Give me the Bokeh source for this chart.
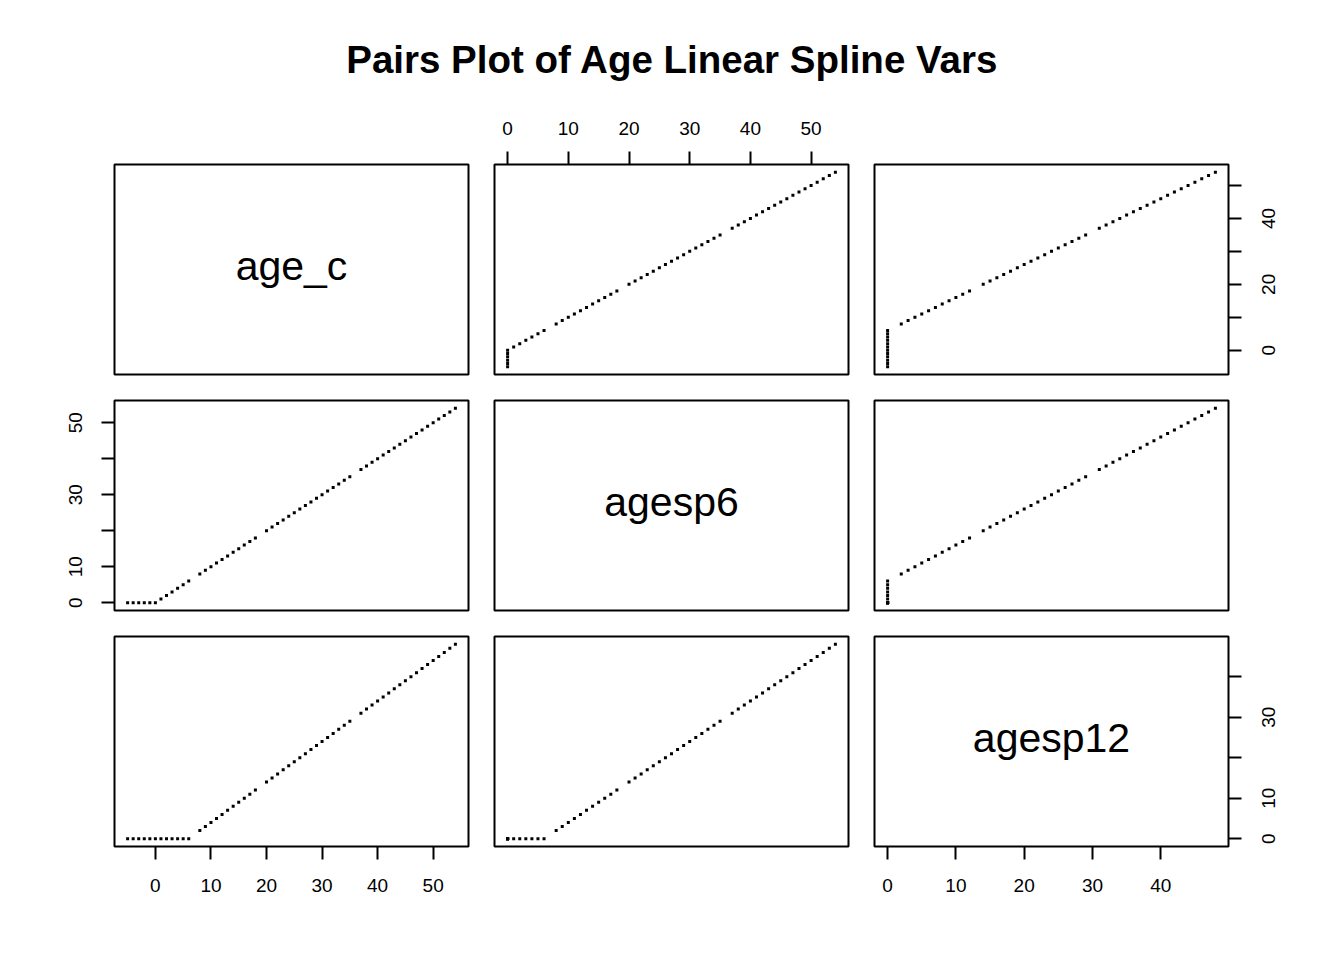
import math
from bokeh.plotting import figure
from bokeh.models import Range1d, FixedTicker, Label, ColumnDataSource, LinearAxis
from bokeh.layouts import column, row
from bokeh.embed import file_html
from bokeh.resources import INLINE
from bokeh.core.properties import value

# ---- data ----
age_c = [-5, -4, -3, -2, -1, 0, 1, 2, 3, 4, 5, 6,
         8, 9, 10, 11, 12, 13, 14, 15, 16, 17, 18,
         20, 21, 22, 23, 24, 25, 26, 27, 28, 29, 30, 31, 32, 33, 34, 35,
         37, 38, 39, 40, 41, 42, 43, 44, 45, 46, 47, 48, 49, 50, 51, 52, 53, 54]
agesp6 = [0, 0, 0, 0, 0, 0, 1, 2, 3, 4, 5, 6,
          8, 9, 10, 11, 12, 13, 14, 15, 16, 17, 18,
          20, 21, 22, 23, 24, 25, 26, 27, 28, 29, 30, 31, 32, 33, 34, 35,
          37, 38, 39, 40, 41, 42, 43, 44, 45, 46, 47, 48, 49, 50, 51, 52, 53, 54]
agesp12 = [0, 0, 0, 0, 0, 0, 0, 0, 0, 0, 0, 0,
           2, 3, 4, 5, 6, 7, 8, 9, 10, 11, 12,
           14, 15, 16, 17, 18, 19, 20, 21, 22, 23, 24, 25, 26, 27, 28, 29,
           31, 32, 33, 34, 35, 36, 37, 38, 39, 40, 41, 42, 43, 44, 45, 46, 47, 48]

var_names = ["age_c", "agesp6", "agesp12"]
var_ticks = {"age_c": [0, 10, 20, 30, 40, 50],
             "agesp6": [0, 10, 20, 30, 40, 50],
             "agesp12": [0, 10, 20, 30, 40]}
title_text = "Pairs Plot of Age Linear Spline Vars"

data = {"age_c": age_c, "agesp6": agesp6, "agesp12": agesp12}
src = ColumnDataSource(data=data)


def padded(vals):
    lo, hi = min(vals), max(vals)
    d = (hi - lo) * 0.04
    return (lo - d, hi + d)


rng = {k: padded(v) for k, v in data.items()}

FONT = "Liberation Sans"
LABEL_PX = 19
FRAME_H = 210
col_w = [481, 380, 482]
col_left = [114, 13, 13]
col_right = [13, 13, 115]
row_h = [287, 236, 337]
row_top = [64, 13, 13]
row_bot = [13, 13, 114]

# label hiding as in the reference (R drops overlapping labels)
hidden = {(0, 2): [10, 30, 50], (1, 0): [20, 40], (2, 2): [20, 40]}
standoff = {"above": 17, "below": 19, "left": 19, "right": 27}


def base_axis(ax, ticks):
    ax.ticker = FixedTicker(ticks=ticks)
    ax.axis_line_color = None
    ax.major_tick_out = 13
    ax.major_tick_in = 0
    ax.minor_tick_out = 0
    ax.minor_tick_in = 0
    ax.major_tick_line_width = 2
    ax.major_tick_line_color = "black"
    ax.major_label_text_font = FONT
    ax.major_label_text_font_size = f"{LABEL_PX}px"
    ax.major_label_text_color = "black"


def style_axis(ax, ticks, side, hide=()):
    base_axis(ax, ticks)
    ax.major_label_standoff = standoff[side]
    if side == "left":
        ax.major_label_orientation = "vertical"
    if hide:
        ax.major_label_overrides = {t: "" for t in hide}


def right_axis(fig, ticks, yv, hide):
    # tick marks only
    ax = fig.yaxis[0]
    base_axis(ax, ticks)
    ax.major_label_standoff = 0
    ax.major_label_text_font_size = "0px"
    ax.major_label_overrides = {t: "" for t in ticks}
    # labels only, read bottom-to-top and centred on their ticks
    lo, hi = rng[yv]
    ppu = FRAME_H / (hi - lo)
    pos, over = [], {}
    for t in ticks:
        if t in hide:
            continue
        txt = str(t)
        half = 0.556 * LABEL_PX * len(txt) / 2.0
        p = round(t - half / ppu, 4)
        pos.append(p)
        over[p] = txt
    lab = LinearAxis()
    base_axis(lab, pos)
    lab.major_tick_out = 0
    lab.major_tick_line_color = None
    lab.major_label_standoff = standoff["right"]
    lab.major_label_orientation = math.pi / 2
    lab.major_label_overrides = over
    fig.add_layout(lab, "right")


def make_panel(i, j):
    xv = var_names[j]
    yv = var_names[i]
    xloc = None
    if i == 0 and j % 2 == 1:
        xloc = "above"
    elif i == 2 and j % 2 == 0:
        xloc = "below"
    yloc = None
    if j == 0 and i % 2 == 1:
        yloc = "left"
    elif j == 2 and i % 2 == 0:
        yloc = "right"
    fig = figure(width=col_w[j], height=row_h[i],
                 x_range=Range1d(*rng[xv]), y_range=Range1d(*rng[yv]),
                 x_axis_location=xloc, y_axis_location=yloc,
                 output_backend="svg", toolbar_location=None,
                 min_border_left=col_left[j], min_border_right=col_right[j],
                 min_border_top=row_top[i], min_border_bottom=row_bot[i])
    fig.xgrid.visible = False
    fig.ygrid.visible = False
    fig.background_fill_color = "white"
    fig.border_fill_color = "white"
    fig.outline_line_color = "black"
    fig.outline_line_width = 2
    fig.outline_line_alpha = 1.0
    if xloc is not None:
        style_axis(fig.xaxis[0], var_ticks[xv], xloc)
    if yloc == "left":
        style_axis(fig.yaxis[0], var_ticks[yv], yloc,
                   hide=hidden.get((i, j), ()))
    elif yloc == "right":
        right_axis(fig, var_ticks[yv], yv, hidden.get((i, j), ()))
    if i == j:
        cx = sum(rng[xv]) / 2
        cy = sum(rng[yv]) / 2
        fig.text(x=[cx], y=[cy], text=[xv], text_font=value(FONT),
                 text_font_size="41px", text_align="center",
                 text_baseline="middle", text_color="black", y_offset=-4)
    else:
        fig.scatter(x=xv, y=yv, source=src, marker="square", size=3,
                    fill_color="black", line_color=None)
    return fig


title_fig = figure(width=1344, height=100, x_range=Range1d(0, 1344),
                   y_range=Range1d(0, 100), x_axis_location=None,
                   y_axis_location=None, output_backend="svg",
                   toolbar_location=None, min_border=0)
title_fig.outline_line_color = None
title_fig.xgrid.visible = False
title_fig.ygrid.visible = False
title_fig.add_layout(Label(x=672, y=41, text=title_text, text_font=FONT,
                           text_font_size="38.5px", text_font_style="bold",
                           text_align="center", text_baseline="alphabetic",
                           text_color="black"))

rows = [row(*[make_panel(i, j) for j in range(3)]) for i in range(3)]
layout = column(title_fig, *rows)

open("out.html", "w").write(file_html(layout, INLINE))
